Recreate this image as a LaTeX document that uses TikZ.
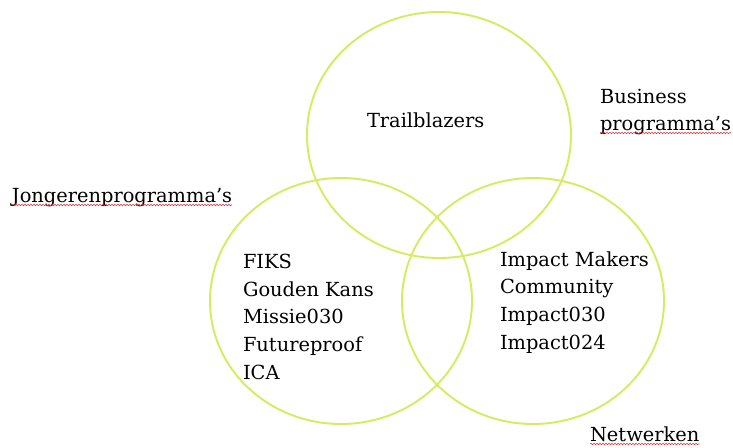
\documentclass[tikz,border=0pt]{standalone}
\usepackage{fontspec}
\setmainfont{DejaVu Serif}
\usetikzlibrary{decorations.pathmorphing}
\definecolor{ringcol}{RGB}{215,234,96}
\definecolor{squigcol}{RGB}{230,50,50}
\newlength\goudenw
\begin{document}
\begin{tikzpicture}[x=1pt,y=-1pt,
  ring/.style={draw=ringcol,line width=1.9pt},
  lbl/.style={anchor=base west,inner sep=0pt,outer sep=0pt,font=\fontsize{19.4}{24}\selectfont,text=black},
  squig/.style={draw=squigcol,line width=0.6pt,decorate,decoration={snake,segment length=3pt,amplitude=0.7pt}}]
\useasboundingbox (0,0) rectangle (733,447);
\fill[white] (0,0) rectangle (733,447);
% rings
\path[ring] (439,135) ellipse [x radius=132,y radius=123];
\path[ring] (341,301) ellipse [x radius=131,y radius=123];
\path[ring] (533,301) ellipse [x radius=131,y radius=123];
% labels
\node[lbl] (trail) at (367,127) {Trailblazers};
\node[lbl] (bus) at (600,103) {Business};
\node[lbl] (prog) at (600,130) {programma’s};
\node[lbl] (jong) at (12,202) {Jongerenprogramma’s};
\node[lbl] (fiks) at (243,268) {FIKS};
\node[lbl] (gouden) at (243,296) {Gouden Kans};
\node[lbl] (missie) at (243,323) {Missie030};
\node[lbl] (future) at (243,351) {Futureproof};
\node[lbl] (ica) at (243,379) {ICA};
\node[lbl] (imk) at (500,266) {Impact Makers};
\node[lbl] (comm) at (500,293) {Community};
\node[lbl] (i30) at (500,321) {Impact030};
\node[lbl] (i24) at (500,349) {Impact024};
\node[lbl] (netw) at (590,441) {Netwerken};
% spelling squiggles
\settowidth{\goudenw}{\fontsize{19.4}{24}\selectfont Gouden}
\path[squig] ([yshift=-3pt]jong.base west) -- ([yshift=-3pt]jong.base east);
\path[squig] ([yshift=-3pt]prog.base west) -- ([yshift=-3pt]prog.base east);
\path[squig] ([yshift=-3pt]gouden.base west) -- ([yshift=-3pt,xshift=\goudenw]gouden.base west);
\path[squig] ([yshift=-3pt]netw.base west) -- ([yshift=-3pt]netw.base east);
\end{tikzpicture}
\end{document}
